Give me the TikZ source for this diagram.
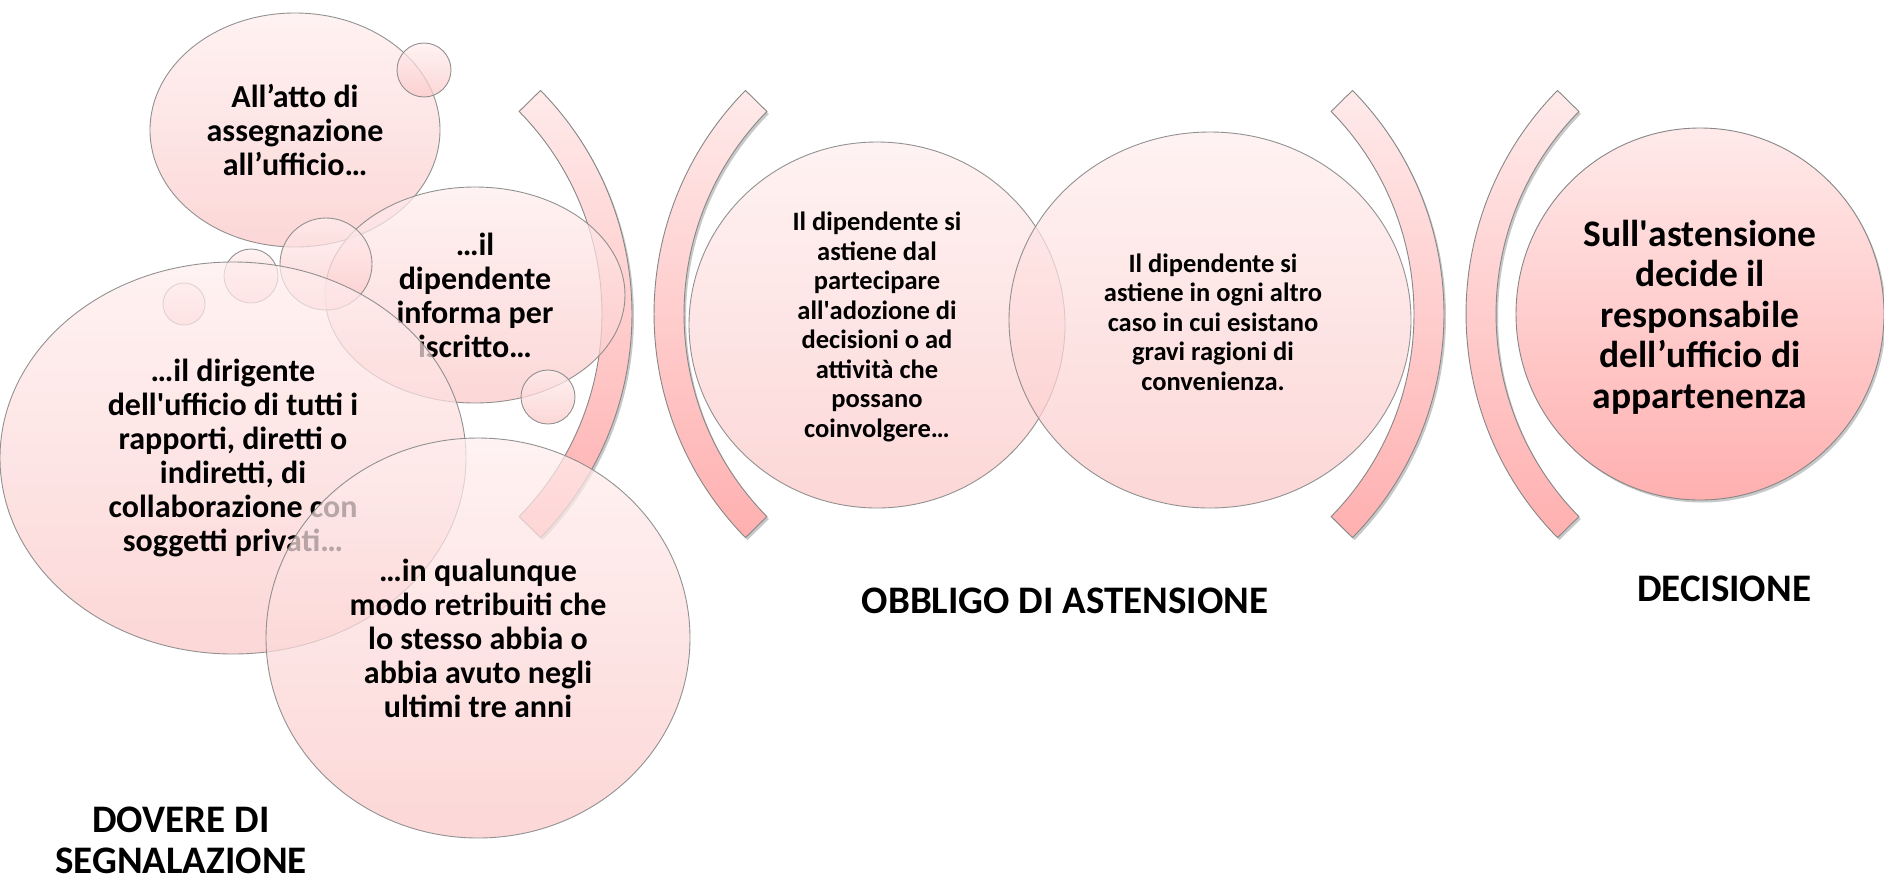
\documentclass[tikz,border=0pt]{standalone}
\usepackage{fontspec}
\setmainfont{Carlito}
\usetikzlibrary{shapes.geometric,shadows,calc}
\definecolor{bubtop}{RGB}{255,238,238}
\definecolor{bubbot}{RGB}{252,200,200}
\definecolor{strongtop}{RGB}{255,234,234}
\definecolor{strongbot}{RGB}{255,176,176}
\definecolor{edgegray}{RGB}{135,135,135}
\begin{document}
\begin{tikzpicture}[x=1pt,y=-1pt,
  bub/.style={ellipse, draw=edgegray, line width=0.9pt, top color=bubtop, bottom color=bubbot, fill opacity=0.72, draw opacity=0.9, inner sep=0, outer sep=0},
  strong/.style={ellipse, draw=edgegray, line width=0.9pt, top color=strongtop, bottom color=strongbot, inner sep=0, outer sep=0,
     drop shadow={shadow xshift=2pt, shadow yshift=-2.5pt, opacity=0.3, fill=black!70}},
  brk/.style={draw=edgegray, line width=0.9pt, top color=strongtop, bottom color=strongbot,
     drop shadow={shadow xshift=2pt, shadow yshift=-2.5pt, opacity=0.3, fill=black!70}},
  txt/.style={align=center, inner sep=0, text=black, font=\bfseries\fontsize{32}{34}\selectfont},
  txtsmall/.style={align=center, inner sep=0, text=black, font=\bfseries\fontsize{26.5}{29.5}\selectfont},
  txtbig/.style={align=center, inner sep=0, text=black, font=\bfseries\fontsize{37.5}{40.5}\selectfont},
  lbl/.style={align=center, inner sep=0, text=black, font=\bfseries\fontsize{39}{41}\selectfont}
]
\useasboundingbox (0,0) rectangle (1884,884);
\fill[white] (0,0) rectangle (1884,884);

% centres of the four arc brackets
\coordinate (k1) at (313,314);
\coordinate (k2) at (973,314);
\coordinate (k3) at (1125,314);
\coordinate (k4) at (1785,314);

% brackets
\path[brk] ($(k1)+(-44.5:289)$) arc[start angle=-44.5,end angle=44.5,radius=289]
  -- ($(k1)+(44.5:319)$) arc[start angle=44.5,end angle=-44.5,radius=319] -- cycle;
\path[brk] ($(k2)+(224.5:289)$) arc[start angle=224.5,end angle=135.5,radius=289]
  -- ($(k2)+(135.5:319)$) arc[start angle=135.5,end angle=224.5,radius=319] -- cycle;
\path[brk] ($(k3)+(-44.5:289)$) arc[start angle=-44.5,end angle=44.5,radius=289]
  -- ($(k3)+(44.5:319)$) arc[start angle=44.5,end angle=-44.5,radius=319] -- cycle;
\path[brk] ($(k4)+(224.5:289)$) arc[start angle=224.5,end angle=135.5,radius=289]
  -- ($(k4)+(135.5:319)$) arc[start angle=135.5,end angle=224.5,radius=319] -- cycle;

% left group of bubbles
\node[bub, minimum width=290, minimum height=234] (A) at (295,130) {};
\node[txt] (At) at (A.center) {All’atto di\\assegnazione\\all’ufficio…};
\node[bub, minimum width=54, minimum height=54] (a1) at (424,70) {};
\node[bub, minimum width=300, minimum height=216] (B) at (475,295) {};
\node[txt] (Bt) at (B.center) {…il\\dipendente\\informa per\\iscritto…};
\node[bub, minimum width=92, minimum height=92] (b1) at (326,264) {};
\node[bub, minimum width=54, minimum height=54] (b2) at (251,276) {};
\node[bub, minimum width=42, minimum height=42] (b3) at (184,304) {};
\node[bub, minimum width=54, minimum height=54] (b4) at (548,397) {};
\node[bub, minimum width=466, minimum height=392] (C) at (233,458) {};
\node[txt] (Ct) at (C.center) {…il dirigente\\dell\textquotesingle ufficio di tutti i\\rapporti, diretti o\\indiretti, di\\collaborazione con\\soggetti privati…};
\node[bub, minimum width=424, minimum height=400] (D) at (478,638) {};
\node[txt] (Dt) at (D.center) {…in qualunque\\modo retribuiti che\\lo stesso abbia o\\abbia avuto negli\\ultimi tre anni};

% middle group
\node[bub, minimum width=376, minimum height=366] (E) at (877,325) {};
\node[txtsmall] (Et) at (877,327) {Il dipendente si\\astiene dal\\partecipare\\all\textquotesingle adozione di\\decisioni o ad\\attività che\\possano\\coinvolgere…};
\node[bub, minimum width=402, minimum height=376] (F) at (1210,320) {};
\node[txtsmall] (Ft) at (1213,322) {Il dipendente si\\astiene in ogni altro\\caso in cui esistano\\gravi ragioni di\\convenienza.};

% decision
\node[strong, minimum width=368, minimum height=372] (G) at (1700,314) {};
\node[txtbig] (Gt) at (1700,317) {Sull\textquotesingle astensione\\decide il\\responsabile\\dell’ufficio di\\appartenenza};

% section labels
\node[lbl] (L1) at (181,840) {DOVERE DI\\SEGNALAZIONE};
\node[lbl] (L2) at (1065,601) {OBBLIGO DI ASTENSIONE};
\node[lbl] (L3) at (1724,589) {DECISIONE};
\end{tikzpicture}
\end{document}
